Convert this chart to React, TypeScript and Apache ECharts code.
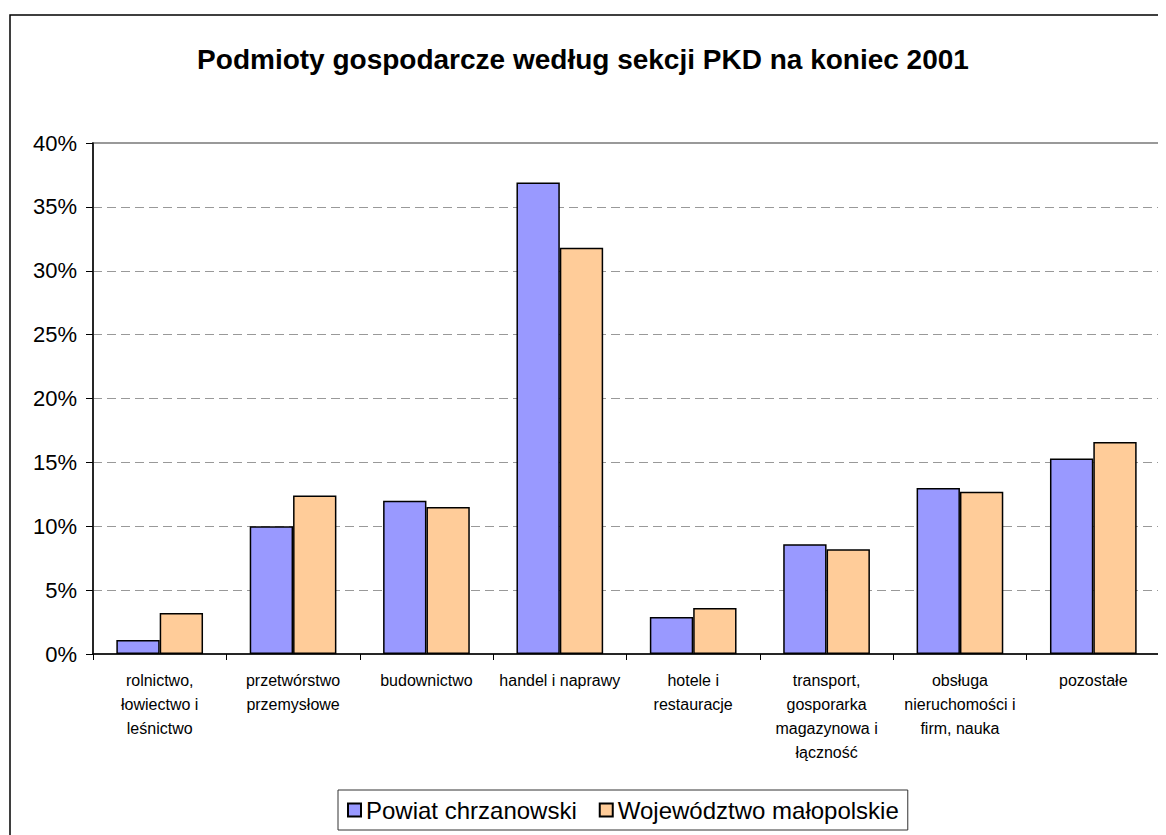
import React, { useEffect, useRef } from "react";
import * as echarts from "echarts";

const titleText = "Podmioty gospodarcze według sekcji PKD na koniec 2001";
const categories = [
  "rolnictwo,\nłowiectwo i\nleśnictwo",
  "przetwórstwo\nprzemysłowe",
  "budownictwo",
  "handel i naprawy",
  "hotele i\nrestauracje",
  "transport,\ngosporarka\nmagazynowa i\nłączność",
  "obsługa\nnieruchomości i\nfirm, nauka",
  "pozostałe",
];
const seriesNames = ["Powiat chrzanowski", "Województwo małopolskie"];
const powiatValues = [1.1, 10.0, 12.0, 36.9, 2.9, 8.6, 13.0, 15.3];
const wojewodztwoValues = [3.2, 12.4, 11.5, 31.8, 3.6, 8.2, 12.7, 16.6];

const FONT = "'Liberation Sans', Arial, sans-serif";

export default function App() {
  const ref = useRef<HTMLDivElement>(null);
  useEffect(() => {
    if (!ref.current) return;
    const chart = echarts.init(ref.current, null, { renderer: "svg" });
    chart.setOption({
      animation: false,
      backgroundColor: "#ffffff",
      textStyle: { fontFamily: FONT, color: "#000" },
      graphic: [
        {
          type: "rect",
          shape: { x: 2, y: 7, width: 3000, height: 3000 },
          style: { fill: "none", stroke: "#000", lineWidth: 1.5 },
          silent: true,
          z: -1,
        },
        {
          type: "text",
          x: 575,
          y: 51,
          style: {
            text: titleText,
            fontFamily: FONT,
            fontSize: 28,
            fontWeight: "bold",
            fill: "#000",
            align: "center",
            verticalAlign: "middle",
          },
        },
      ],
      grid: {
        left: 85,
        top: 135,
        right: 6,
        bottom: 181,
        show: true,
        borderColor: "#999999",
        borderWidth: 2,
        backgroundColor: "transparent",
      },
      legend: {
        data: seriesNames,
        left: 330,
        top: 782,
        orient: "horizontal",
        icon: "rect",
        itemWidth: 13,
        itemHeight: 13,
        itemGap: 22,
        padding: [8, 9, 8, 9],
        borderColor: "#333",
        borderWidth: 1,
        borderRadius: 0,
        textStyle: {
          fontFamily: FONT,
          fontSize: 24,
          lineHeight: 24,
          color: "#000",
        },
      },
      xAxis: {
        type: "category",
        data: categories,
        axisLine: { lineStyle: { color: "#000", width: 1.5 } },
        axisTick: { show: true, length: 6, lineStyle: { color: "#000" } },
        axisLabel: {
          interval: 0,
          margin: 14,
          fontFamily: FONT,
          fontSize: 16,
          lineHeight: 24,
          color: "#000",
          align: "center",
        },
        splitLine: { show: false },
      },
      yAxis: {
        type: "value",
        min: 0,
        max: 40,
        interval: 5,
        axisLine: { show: true, lineStyle: { color: "#000", width: 1.5 } },
        axisTick: { show: true, length: 7, lineStyle: { color: "#000" } },
        axisLabel: {
          formatter: "{value}%",
          margin: 16,
          fontFamily: FONT,
          fontSize: 22,
          color: "#000",
        },
        splitLine: {
          show: true,
          lineStyle: { color: "#999999", width: 1, type: [9, 5] },
        },
      },
      series: [
        {
          name: seriesNames[0],
          type: "bar",
          data: powiatValues,
          barGap: "0%",
          barCategoryGap: "35%",
          itemStyle: { color: "#9999FF", borderColor: "#000", borderWidth: 1.5 },
        },
        {
          name: seriesNames[1],
          type: "bar",
          data: wojewodztwoValues,
          barGap: "0%",
          barCategoryGap: "35%",
          itemStyle: { color: "#FFCC99", borderColor: "#000", borderWidth: 1.5 },
        },
      ],
    });
    return () => chart.dispose();
  }, []);
  return <div ref={ref} style={{ width: 1158, height: 827 }} />;
}
